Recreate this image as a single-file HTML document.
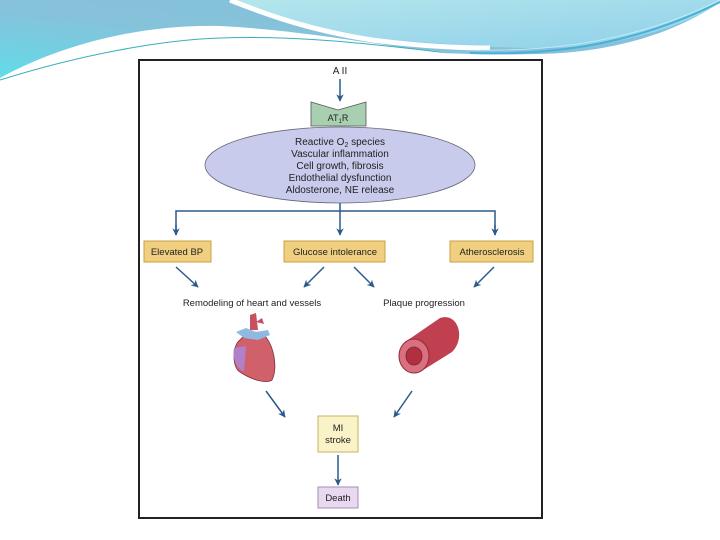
<!DOCTYPE html>
<html><head><style>
html,body{margin:0;padding:0;width:720px;height:540px;overflow:hidden;background:#fff;font-family:"Liberation Sans",sans-serif;}
svg{position:absolute;left:0;top:0}
text{font-family:"Liberation Sans",sans-serif;fill:#222}
</style></head><body>
<svg width="720" height="540" viewBox="0 0 720 540">
<defs>
<linearGradient id="g1" x1="0" y1="1" x2="1" y2="0"><stop offset="0" stop-color="#62dbe8"/><stop offset="0.45" stop-color="#86c2da"/><stop offset="1" stop-color="#82c0dc"/></linearGradient>
<linearGradient id="g2" x1="0" y1="0" x2="1" y2="1"><stop offset="0" stop-color="#b4e6ec"/><stop offset="1" stop-color="#8fd0ea"/></linearGradient>
<marker id="a" viewBox="0 0 10 10" refX="9" refY="5" markerWidth="5" markerHeight="5" orient="auto"><path d="M0,0 L10,5 L0,10 L3,5z" fill="#2b5a8c"/></marker>
</defs>
<!-- base header -->
<path d="M0,0 H720 L720,2 C680,30 620,52 540,54 C500,55 470,54 440,53 C380,45 300,30 220,26 C140,24 60,45 0,78 Z" fill="url(#g1)"/>
<!-- light region right of white stripe -->
<path d="M236,0 H720 L720,2 C690,25 620,48 540,48 C480,48 420,42 370,38 C310,28 270,15 236,0 Z" fill="url(#g2)"/>
<!-- white stripe -->
<path d="M230,0 C270,16 310,30 372,40 C420,46 460,48 490,48" stroke="#fff" stroke-width="5" fill="none"/>
<path d="M0,80 C60,55 130,38 200,36 C280,34 360,45 440,53" stroke="#fff" stroke-width="3" fill="none"/>
<path d="M0,80 C80,55 160,40 220,38 C300,35 380,45 440,52" stroke="#3aaeb8" stroke-width="1" fill="none"/>
<path d="M470,53 C560,56 640,42 720,2" stroke="#4ab0d8" stroke-width="2" fill="none"/>
<path d="M480,50 C580,52 660,30 720,0" stroke="#c8eef4" stroke-width="0.8" fill="none"/>

<rect x="139" y="60" width="403" height="458" fill="#fff" stroke="#222" stroke-width="2"/>

<text x="340" y="74" font-size="10" text-anchor="middle">A II</text>
<line x1="340" y1="79" x2="340" y2="101" stroke="#2b5a8c" stroke-width="1.5" marker-end="url(#a)"/>
<path d="M311,102 L338,110 L366,102 L366,126 L311,126 Z" fill="#a8d0b0" stroke="#555" stroke-width="0.8"/>
<text x="338" y="121" font-size="9" text-anchor="middle">AT<tspan font-size="6" dy="2">1</tspan><tspan dy="-2">R</tspan></text>
<ellipse cx="340" cy="165" rx="135" ry="38" fill="#c8cbec" stroke="#667" stroke-width="0.8"/>
<g font-size="10" text-anchor="middle">
<text x="340" y="145">Reactive O<tspan font-size="7" dy="2">2</tspan><tspan dy="-2"> species</tspan></text>
<text x="340" y="157">Vascular inflammation</text>
<text x="340" y="169">Cell growth, fibrosis</text>
<text x="340" y="181">Endothelial dysfunction</text>
<text x="340" y="193">Aldosterone, NE release</text>
</g>
<g stroke="#2b5a8c" stroke-width="1.5" fill="none">
<line x1="340" y1="203" x2="340" y2="235" marker-end="url(#a)"/>
<polyline points="176,235 176,211 495,211 495,235"/>
<line x1="176" y1="225" x2="176" y2="235" marker-end="url(#a)"/>
<line x1="495" y1="225" x2="495" y2="235" marker-end="url(#a)"/>
<line x1="176" y1="267" x2="198" y2="287" marker-end="url(#a)"/>
<line x1="324" y1="267" x2="304" y2="287" marker-end="url(#a)"/>
<line x1="354" y1="267" x2="374" y2="287" marker-end="url(#a)"/>
<line x1="494" y1="267" x2="474" y2="287" marker-end="url(#a)"/>
<line x1="266" y1="391" x2="285" y2="417" marker-end="url(#a)"/>
<line x1="412" y1="391" x2="394" y2="417" marker-end="url(#a)"/>
<line x1="338" y1="455" x2="338" y2="485" marker-end="url(#a)"/>
</g>
<g fill="#f0d080" stroke="#c9a040" stroke-width="1">
<rect x="144" y="241" width="67" height="21"/>
<rect x="284" y="241" width="101" height="21"/>
<rect x="450" y="241" width="83" height="21"/>
</g>
<g font-size="9.5" text-anchor="middle">
<text x="177" y="255">Elevated BP</text>
<text x="335" y="255">Glucose intolerance</text>
<text x="492" y="255">Atherosclerosis</text>
<text x="252" y="306">Remodeling of heart and vessels</text>
<text x="424" y="306">Plaque progression</text>
</g>
<!-- heart -->
<path d="M240,340 C232,345 232,368 240,372 C252,380 266,384 272,380 C278,368 274,345 264,335 C258,330 246,332 240,340Z" fill="#d0606a" stroke="#803040" stroke-width="0.8"/>
<path d="M234,348 C232,358 236,368 244,372 L246,346Z" fill="#b080c8"/>
<path d="M250,330 L250,315 L256,313 L258,330Z" fill="#c85060"/>
<path d="M236,332 L246,328 L256,332 L268,330 L270,335 L258,340 L244,338Z" fill="#90b8e0"/>
<path d="M256,322 L262,318 L264,324Z" fill="#c85060"/>
<!-- cylinder -->
<path d="M408,340 L440,318 C458,312 466,338 452,352 L420,372 Z" fill="#c04050"/>
<ellipse cx="414" cy="356" rx="15" ry="17" fill="#d87080" stroke="#902838" stroke-width="1"/>
<ellipse cx="414" cy="356" rx="8" ry="9" fill="#b03040" stroke="#802030" stroke-width="0.8"/>

<rect x="318" y="416" width="40" height="36" fill="#fbf3c8" stroke="#c9b060" stroke-width="1"/>
<text x="338" y="431" font-size="9.5" text-anchor="middle">MI</text>
<text x="338" y="443" font-size="9.5" text-anchor="middle">stroke</text>
<rect x="318" y="487" width="40" height="21" fill="#e8d8f0" stroke="#a090b0" stroke-width="1"/>
<text x="338" y="501" font-size="9.5" text-anchor="middle">Death</text>
</svg>
</body></html>
